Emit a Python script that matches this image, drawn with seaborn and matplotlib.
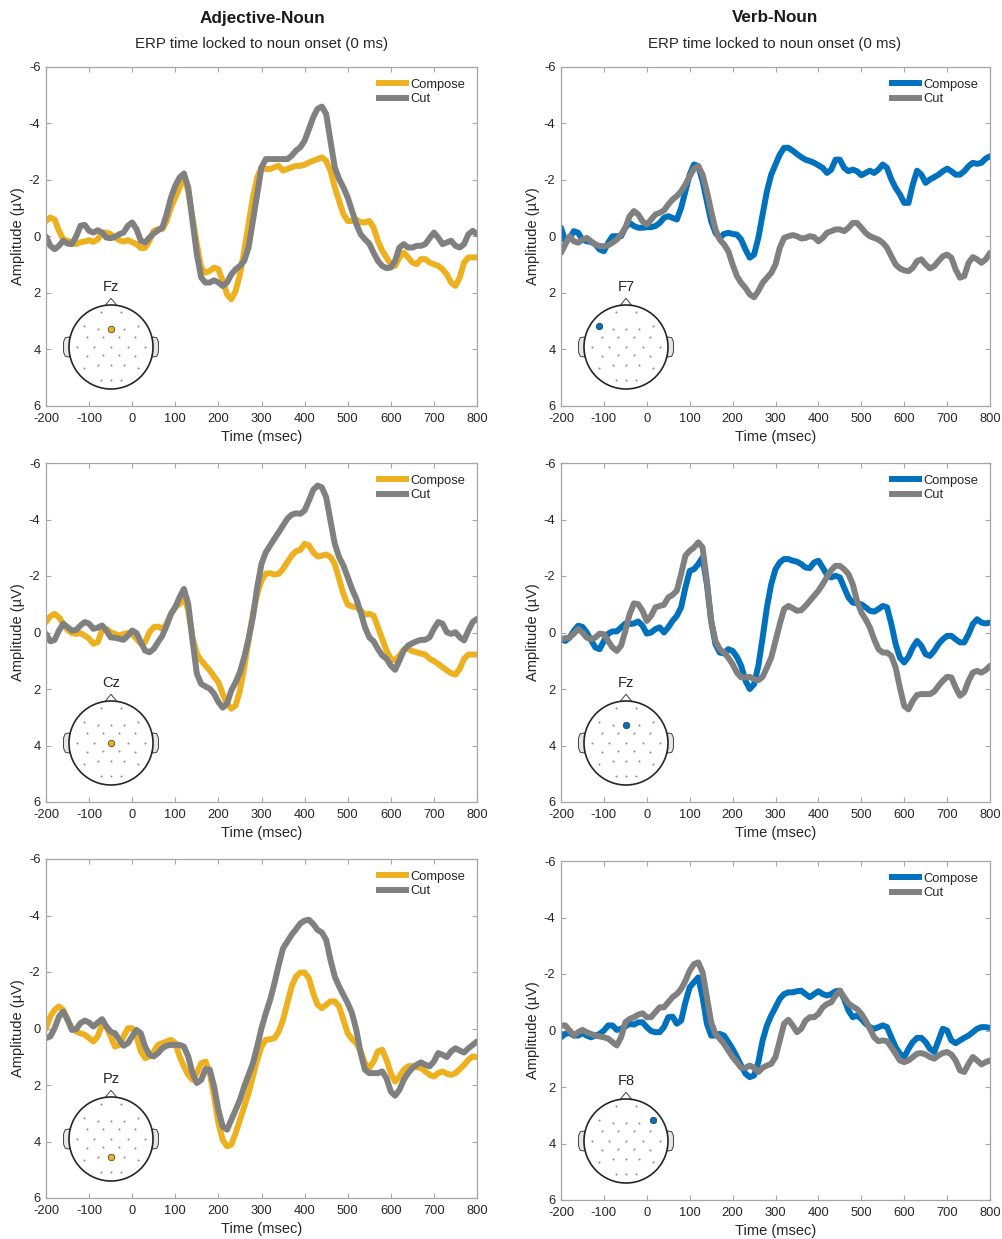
import numpy as np
import pandas as pd
import matplotlib
matplotlib.use("Agg")
import matplotlib.pyplot as plt
import seaborn as sns

# sampling times (ms), one value every 10 ms
times = np.arange(-200, 801, 10)

# ---- Adjective-Noun ----
adj_fz_compose = [-0.55, -0.67, -0.6, -0.2, 0.1, 0.15, 0.2, 0.27, 0.2, 0.18, 0.13, 0.19, 0.1, -0.14, -0.14, -0.08, 0.04, 0.13, 0.18, 0.13,
                  0.2, 0.27, 0.41, 0.4, 0.15, -0.2, -0.26, -0.26, -0.55, -1.03, -1.38, -1.74, -2.15, -1.6, -0.67, 0.27, 1.1, 1.28, 1.22, 1.1,
                  1.16, 1.57, 2.05, 2.22, 1.93, 1.34, 0.5, -0.44, -1.38, -2.09, -2.45, -2.39, -2.39, -2.45, -2.5, -2.33, -2.39, -2.45, -2.5, -2.5,
                  -2.54, -2.62, -2.68, -2.74, -2.8, -2.68, -2.33, -1.74, -1.26, -0.79, -0.55, -0.55, -0.6, -0.5, -0.5, -0.55, -0.32, 0.15, 0.5, 0.74,
                  0.98, 1.04, 0.74, 0.57, 0.74, 0.92, 0.98, 0.8, 0.8, 0.92, 0.98, 1.04, 1.16, 1.34, 1.63, 1.75, 1.45, 0.92, 0.74, 0.74, 0.74]
adj_fz_cut = [0.0, 0.33, 0.45, 0.33, 0.15, 0.25, 0.27, 0.0, -0.38, -0.41, -0.2, -0.14, -0.22, -0.14, 0.04, 0.06, 0.01, -0.08, -0.14, -0.38,
              -0.5, -0.26, 0.15, 0.21, 0.04, -0.11, -0.22, -0.32, -0.79, -1.38, -1.8, -2.09, -2.23, -1.74, -0.55, 0.63, 1.45, 1.63, 1.63, 1.55,
              1.63, 1.75, 1.63, 1.34, 1.16, 1.04, 0.86, 0.39, -0.55, -1.5, -2.45, -2.74, -2.74, -2.74, -2.74, -2.74, -2.74, -2.86, -3.04, -3.16,
              -3.39, -3.8, -4.22, -4.52, -4.6, -4.34, -3.39, -2.45, -2.03, -1.74, -1.38, -0.91, -0.44, -0.08, 0.1, 0.25, 0.57, 0.86, 1.04, 1.12,
              1.1, 0.86, 0.39, 0.27, 0.39, 0.39, 0.33, 0.33, 0.27, 0.06, -0.14, 0.04, 0.27, 0.21, 0.15, 0.33, 0.39, 0.27, -0.08, -0.2, -0.08]

adj_cz_compose = [-0.37, -0.57, -0.66, -0.54, -0.31, -0.09, 0.02, 0.05, 0.02, 0.11, 0.22, 0.4, 0.34, -0.07, -0.13, -0.01, 0.05, 0.11, 0.05, 0.02,
                  0.05, 0.22, 0.4, 0.34, -0.01, -0.19, -0.21, -0.13, -0.31, -0.66, -0.9, -1.01, -1.25, -0.78, 0.17, 0.75, 0.99, 1.17, 1.34, 1.56,
                  1.76, 2.17, 2.52, 2.7, 2.58, 2.05, 1.23, 0.28, -0.66, -1.37, -1.84, -2.08, -2.1, -2.05, -2.08, -2.25, -2.49, -2.72, -2.88, -2.92,
                  -3.14, -3.08, -2.84, -2.69, -2.72, -2.76, -2.67, -2.43, -1.9, -1.37, -0.99, -0.92, -0.9, -0.78, -0.64, -0.66, -0.6, -0.19, 0.22, 0.64,
                  0.93, 0.99, 0.81, 0.61, 0.58, 0.66, 0.7, 0.75, 0.78, 0.93, 1.01, 1.11, 1.23, 1.34, 1.44, 1.49, 1.28, 0.93, 0.78, 0.78, 0.78]
adj_cz_cut = [0.05, 0.31, 0.26, -0.07, -0.31, -0.19, -0.07, -0.09, -0.25, -0.37, -0.31, -0.13, -0.17, -0.25, -0.07, 0.17, 0.19, 0.22, 0.26, 0.11,
              -0.07, 0.02, 0.34, 0.64, 0.7, 0.58, 0.34, 0.11, -0.25, -0.66, -0.9, -1.25, -1.54, -1.01, 0.28, 1.46, 1.82, 1.91, 1.99, 2.17,
              2.46, 2.66, 2.52, 2.05, 1.76, 1.4, 0.87, 0.22, -0.54, -1.6, -2.43, -2.84, -3.08, -3.32, -3.55, -3.79, -4.03, -4.17, -4.22, -4.2,
              -4.32, -4.67, -5.05, -5.2, -5.14, -4.79, -3.96, -3.14, -2.67, -2.37, -1.96, -1.54, -1.19, -0.72, -0.19, 0.17, 0.31, 0.58, 0.81, 0.93,
              1.17, 1.32, 0.99, 0.64, 0.46, 0.38, 0.31, 0.26, 0.26, 0.17, -0.13, -0.37, -0.31, -0.01, 0.05, -0.01, 0.17, 0.28, -0.07, -0.37, -0.48]

adj_pz_compose = [0.0, -0.42, -0.66, -0.78, -0.66, -0.31, -0.01, 0.11, 0.17, 0.22, 0.34, 0.46, 0.28, -0.13, -0.07, 0.28, 0.64, 0.58, 0.28, -0.01,
                  -0.01, 0.28, 0.81, 1.05, 0.99, 0.81, 0.58, 0.52, 0.46, 0.4, 0.52, 0.99, 1.34, 1.64, 1.82, 1.58, 1.23, 1.17, 1.58, 2.41,
                  3.35, 3.94, 4.17, 4.11, 3.7, 3.23, 2.76, 2.29, 1.7, 1.11, 0.64, 0.4, 0.38, 0.34, 0.11, -0.31, -0.9, -1.49, -1.84, -1.98,
                  -1.98, -1.78, -1.25, -0.84, -0.72, -0.84, -0.96, -0.96, -0.78, -0.31, 0.17, 0.38, 0.52, 0.81, 1.23, 1.4, 1.17, 0.81, 0.75, 1.11,
                  1.58, 1.88, 1.7, 1.46, 1.34, 1.32, 1.37, 1.4, 1.52, 1.64, 1.7, 1.58, 1.52, 1.6, 1.64, 1.58, 1.44, 1.29, 1.11, 0.99, 1.01]
adj_pz_cut = [0.34, 0.28, -0.01, -0.42, -0.6, -0.31, 0.05, 0.02, -0.19, -0.28, -0.21, -0.07, -0.21, -0.33, -0.07, 0.11, 0.17, 0.4, 0.61, 0.52,
              0.28, 0.05, 0.17, 0.64, 0.93, 0.99, 0.87, 0.7, 0.61, 0.58, 0.58, 0.58, 0.64, 0.99, 1.58, 1.93, 1.82, 1.44, 1.46, 2.05,
              2.88, 3.47, 3.58, 3.23, 2.88, 2.52, 2.05, 1.64, 1.23, 0.64, -0.01, -0.54, -1.01, -1.6, -2.25, -2.84, -3.08, -3.32, -3.51, -3.72,
              -3.82, -3.85, -3.7, -3.49, -3.4, -3.14, -2.43, -1.84, -1.49, -1.19, -0.9, -0.54, 0.05, 0.87, 1.46, 1.58, 1.58, 1.58, 1.52, 1.76,
              2.23, 2.38, 2.17, 1.82, 1.58, 1.4, 1.28, 1.2, 1.28, 1.34, 1.17, 0.87, 0.93, 1.01, 0.81, 0.7, 0.78, 0.85, 0.7, 0.58, 0.46]

# ---- Verb-Noun ----
verb_f7_compose = [-0.31, 0.17, 0.05, -0.19, -0.13, 0.11, 0.17, 0.19, 0.28, 0.46, 0.52, 0.22, -0.01, -0.01, -0.01, -0.31, -0.48, -0.37, -0.31, -0.31,
                   -0.33, -0.33, -0.37, -0.48, -0.66, -0.72, -0.66, -0.6, -1.01, -1.6, -2.19, -2.55, -2.49, -1.96, -1.25, -0.54, -0.13, 0.05, -0.09, -0.13,
                   -0.09, -0.07, 0.11, 0.46, 0.75, 0.64, 0.05, -0.78, -1.6, -2.19, -2.55, -2.9, -3.14, -3.14, -3.04, -2.92, -2.81, -2.72, -2.67, -2.61,
                   -2.52, -2.43, -2.25, -2.37, -2.72, -2.72, -2.43, -2.31, -2.37, -2.31, -2.17, -2.25, -2.33, -2.25, -2.37, -2.55, -2.43, -2.02, -1.72, -1.49,
                   -1.19, -1.19, -1.84, -2.33, -2.19, -1.9, -2.02, -2.1, -2.19, -2.31, -2.4, -2.31, -2.19, -2.19, -2.31, -2.49, -2.61, -2.57, -2.61, -2.76, -2.84]
verb_f7_cut = [0.58, 0.28, -0.01, 0.17, 0.22, 0.11, 0.05, 0.17, 0.28, 0.34, 0.34, 0.31, 0.22, 0.11, -0.07, -0.31, -0.72, -0.9, -0.78, -0.54,
               -0.42, -0.6, -0.78, -0.84, -0.92, -1.13, -1.31, -1.43, -1.6, -1.84, -2.13, -2.4, -2.49, -2.19, -1.6, -0.9, -0.25, 0.11, 0.28, 0.52,
               0.99, 1.4, 1.64, 1.82, 2.05, 2.15, 1.93, 1.64, 1.46, 1.29, 0.99, 0.4, 0.05, -0.01, -0.05, -0.01, 0.07, 0.05, -0.01, 0.02,
               0.17, 0.05, -0.13, -0.19, -0.25, -0.25, -0.19, -0.31, -0.48, -0.48, -0.31, -0.13, -0.01, 0.05, 0.11, 0.22, 0.4, 0.7, 0.99, 1.13,
               1.2, 1.23, 1.11, 0.87, 0.81, 0.99, 1.13, 1.05, 0.87, 0.7, 0.64, 0.75, 1.17, 1.46, 1.4, 0.93, 0.73, 0.81, 0.93, 0.81, 0.58]

verb_fz_compose = [0.24, 0.3, 0.18, -0.06, -0.24, -0.2, 0.0, 0.27, 0.53, 0.59, 0.3, 0.04, -0.04, -0.04, -0.18, -0.32, -0.3, -0.32, -0.39, -0.24,
                   0.04, 0.0, -0.12, -0.18, 0.0, -0.18, -0.41, -0.59, -0.89, -1.59, -2.18, -2.24, -2.42, -2.66, -1.71, -0.41, 0.41, 0.71, 0.74, 0.59,
                   0.65, 0.86, 1.18, 1.71, 2.0, 1.83, 1.18, 0.18, -0.89, -1.71, -2.24, -2.48, -2.6, -2.6, -2.54, -2.51, -2.42, -2.3, -2.28, -2.48,
                   -2.54, -2.3, -2.04, -1.95, -2.01, -1.95, -1.59, -1.24, -1.06, -1.03, -1.0, -0.89, -0.77, -0.74, -0.83, -0.94, -0.89, -0.3, 0.41, 0.89,
                   1.06, 0.86, 0.53, 0.3, 0.47, 0.77, 0.83, 0.65, 0.41, 0.24, 0.12, 0.12, 0.24, 0.35, 0.35, 0.06, -0.3, -0.47, -0.35, -0.32, -0.35]
verb_fz_cut = [0.24, 0.2, 0.18, 0.04, -0.12, 0.0, 0.18, 0.24, 0.18, 0.04, 0.06, 0.3, 0.53, 0.65, 0.47, -0.06, -0.65, -1.03, -1.0, -0.77,
               -0.41, -0.59, -0.89, -0.94, -0.98, -1.24, -1.33, -1.48, -2.07, -2.72, -2.89, -3.01, -3.19, -3.01, -1.83, -0.41, 0.3, 0.59, 0.71, 0.89,
               1.12, 1.42, 1.59, 1.59, 1.57, 1.65, 1.69, 1.57, 1.24, 0.89, 0.3, -0.3, -0.83, -0.94, -0.86, -0.77, -0.79, -0.94, -1.12, -1.3,
               -1.48, -1.71, -1.97, -2.21, -2.36, -2.36, -2.24, -2.07, -1.71, -1.12, -0.71, -0.47, -0.18, 0.24, 0.59, 0.71, 0.71, 0.83, 1.24, 1.95,
               2.6, 2.72, 2.42, 2.21, 2.18, 2.18, 2.18, 2.09, 1.89, 1.71, 1.57, 1.59, 1.95, 2.24, 2.12, 1.71, 1.42, 1.36, 1.42, 1.33, 1.18]

verb_f8_compose = [0.24, 0.12, 0.09, 0.18, 0.18, 0.09, 0.18, 0.24, 0.18, 0.12, 0.0, -0.18, -0.18, -0.02, -0.06, -0.14, -0.24, -0.21, -0.29, -0.29,
                   -0.12, 0.02, 0.06, 0.06, -0.12, -0.47, -0.49, -0.24, -0.35, -1.0, -1.53, -1.71, -1.88, -1.18, -0.24, 0.18, 0.18, 0.12, 0.18, 0.41,
                   0.65, 0.94, 1.24, 1.53, 1.65, 1.59, 1.12, 0.35, -0.18, -0.53, -0.82, -1.12, -1.29, -1.35, -1.35, -1.39, -1.41, -1.29, -1.18, -1.29,
                   -1.39, -1.29, -1.24, -1.29, -1.39, -1.41, -1.12, -0.71, -0.47, -0.53, -0.41, -0.24, -0.12, -0.06, -0.12, -0.18, -0.12, 0.24, 0.59, 0.82,
                   0.94, 0.65, 0.41, 0.26, 0.26, 0.41, 0.65, 0.76, 0.35, -0.06, 0.0, 0.35, 0.45, 0.35, 0.26, 0.18, 0.06, -0.06, -0.12, -0.12, -0.09]
verb_f8_cut = [-0.18, -0.18, 0.0, 0.18, 0.06, -0.02, 0.06, 0.12, 0.18, 0.21, 0.24, 0.29, 0.41, 0.53, 0.24, -0.29, -0.41, -0.47, -0.56, -0.61,
               -0.47, -0.47, -0.65, -0.82, -0.82, -1.0, -1.18, -1.29, -1.47, -1.76, -2.12, -2.35, -2.41, -2.06, -1.18, -0.29, 0.12, 0.29, 0.47, 0.71,
               0.94, 1.12, 1.32, 1.32, 1.24, 1.32, 1.47, 1.32, 1.24, 1.18, 0.94, 0.35, -0.24, -0.38, -0.18, 0.06, -0.06, -0.35, -0.47, -0.47,
               -0.59, -0.82, -0.94, -1.0, -1.24, -1.41, -1.18, -0.96, -0.85, -0.76, -0.59, -0.35, -0.06, 0.24, 0.38, 0.35, 0.38, 0.59, 0.82, 1.06,
               1.12, 1.06, 0.94, 0.82, 0.8, 0.85, 0.94, 1.0, 0.88, 0.8, 0.76, 0.85, 1.06, 1.41, 1.47, 1.18, 0.94, 1.06, 1.2, 1.12, 1.06]

# electrode layout (unit head radius), 32-channel style
elec_x = [-0.24, 0.24, -0.64, -0.32, 0.0, 0.32, 0.64, -0.56, -0.18, 0.18, 0.56, -0.8, -0.4, 0.0, 0.4, 0.8,
          -0.56, -0.18, 0.18, 0.56, -0.64, -0.32, 0.0, 0.32, 0.64, -0.24, 0.0, 0.24]
elec_y = [0.83, 0.83, 0.5, 0.44, 0.43, 0.44, 0.5, 0.23, 0.23, 0.23, 0.23, 0.0, 0.0, 0.0, 0.0, 0.0,
          -0.22, -0.2, -0.2, -0.22, -0.5, -0.44, -0.43, -0.44, -0.5, -0.78, -0.78, -0.78]
elec_names = {"Fz": (0.0, 0.43), "Cz": (0.0, 0.0), "Pz": (0.0, -0.43), "F7": (-0.64, 0.5), "F8": (0.64, 0.5)}

orange = "#EDB120"
blue = "#0072BD"
gray = "#808080"
txt = "#262626"
edge = "#a6a6a6"

panels = [
    (0, 0, "Fz", adj_fz_compose, adj_fz_cut, orange),
    (1, 0, "Cz", adj_cz_compose, adj_cz_cut, orange),
    (2, 0, "Pz", adj_pz_compose, adj_pz_cut, orange),
    (0, 1, "F7", verb_f7_compose, verb_f7_cut, blue),
    (1, 1, "Fz", verb_fz_compose, verb_fz_cut, blue),
    (2, 1, "F8", verb_f8_compose, verb_f8_cut, blue),
]

sns.set_style("ticks")
plt.rcParams['font.family'] = ['Liberation Sans', 'DejaVu Sans']
plt.rcParams['axes.unicode_minus'] = False

W, H = 1002, 1239
fig = plt.figure(figsize=(W / 100, H / 100), dpi=100)

col_left = [46, 561]
col_width = [431, 429]
row_top = [[67, 463, 859], [67, 463, 861]]
ax_h = 339


def draw_head(fig, cx, cy, name, color):
    r = 42
    size = 2.7 * r
    hax = fig.add_axes([(cx - size / 2) / W, 1 - (cy + size / 2) / H, size / W, size / H])
    hax.set_xlim(-1.35, 1.35)
    hax.set_ylim(-1.35, 1.35)
    hax.set_aspect("equal")
    hax.axis("off")
    # ears
    for s in (-1, 1):
        ear_x = [s * 0.99, s * 1.09, s * 1.13, s * 1.13, s * 1.09, s * 0.99]
        ear_y = [0.24, 0.22, 0.12, -0.12, -0.22, -0.24]
        hax.fill(ear_x, ear_y, facecolor="#e6e6e6", edgecolor="#404040", lw=0.7, zorder=1)
    # nose
    hax.fill([-0.14, 0.0, 0.14], [0.99, 1.16, 0.99], facecolor="white", edgecolor="#404040", lw=0.7, zorder=1)
    circ = plt.Circle((0, 0), 1.0, facecolor="white", edgecolor="#262626", lw=1.2, zorder=2)
    hax.add_patch(circ)
    ex, ey = elec_names[name]
    keep = [(x, y) for x, y in zip(elec_x, elec_y) if not (abs(x - ex) < 1e-6 and abs(y - ey) < 1e-6)]
    hax.scatter([k[0] for k in keep], [k[1] for k in keep], s=2.2, color="#909090", zorder=3, linewidths=0)
    hax.scatter([ex], [ey], s=22, color=color, edgecolors="#333333", linewidths=0.5, zorder=4)
    hax.text(0, 1.43, name, ha="center", va="center", fontsize=10.5, color=txt)


for row, col, name, comp, cut, color in panels:
    left = col_left[col]
    top = row_top[col][row]
    ax = fig.add_axes([left / W, 1 - (top + ax_h) / H, col_width[col] / W, ax_h / H])
    df = pd.DataFrame({
        "time": np.concatenate([times, times]),
        "amp": np.concatenate([comp, cut]),
        "cond": ["Compose"] * len(times) + ["Cut"] * len(times),
    })
    sns.lineplot(data=df, x="time", y="amp", hue="cond", palette={"Compose": color, "Cut": gray},
                 linewidth=4.3, errorbar=None, legend=False, ax=ax)
    ax.set_xlim(-200, 800)
    ax.set_ylim(6, -6)
    ax.set_xticks(range(-200, 801, 100))
    ax.set_yticks(range(-6, 7, 2))
    ax.tick_params(direction="in", length=3.5, width=0.8, color=edge, labelcolor=txt, labelsize=9.3,
                   top=True, right=True)
    ax.tick_params(axis="x", pad=5)
    ax.tick_params(axis="y", pad=4)
    for sp in ax.spines.values():
        sp.set_color(edge)
        sp.set_linewidth(0.9)
    ax.set_xlabel("Time (msec)", fontsize=10.5, color=txt, labelpad=4)
    ax.set_ylabel("Amplitude (µV)", fontsize=10.5, color=txt, labelpad=3)
    leg = ax.legend(ax.lines[:2], ["Compose", "Cut"], loc="upper right", frameon=False, fontsize=9.3,
                    handlelength=2.5, handletextpad=0.15, labelspacing=0.2, borderaxespad=0.5,
                    bbox_to_anchor=(1.0, 1.0))
    for h in leg.legend_handles:
        h.set_solid_capstyle("butt")
    for t in leg.get_texts():
        t.set_color(txt)
    draw_head(fig, left + 65, top + ax_h - 59, name, color)

fig.text(0.2615, 1 - 18 / H, "Adjective-Noun", ha="center", va="center", fontsize=12.3, fontweight="bold", color="#1a1a1a")
fig.text(0.2615, 1 - 44 / H, "ERP time locked to noun onset (0 ms)", ha="center", va="center", fontsize=10.8, color=txt)
fig.text(0.7735, 1 - 18 / H, "Verb-Noun", ha="center", va="center", fontsize=12.3, fontweight="bold", color="#1a1a1a")
fig.text(0.7735, 1 - 44 / H, "ERP time locked to noun onset (0 ms)", ha="center", va="center", fontsize=10.8, color=txt)

plt.savefig("out.png", dpi=100)
